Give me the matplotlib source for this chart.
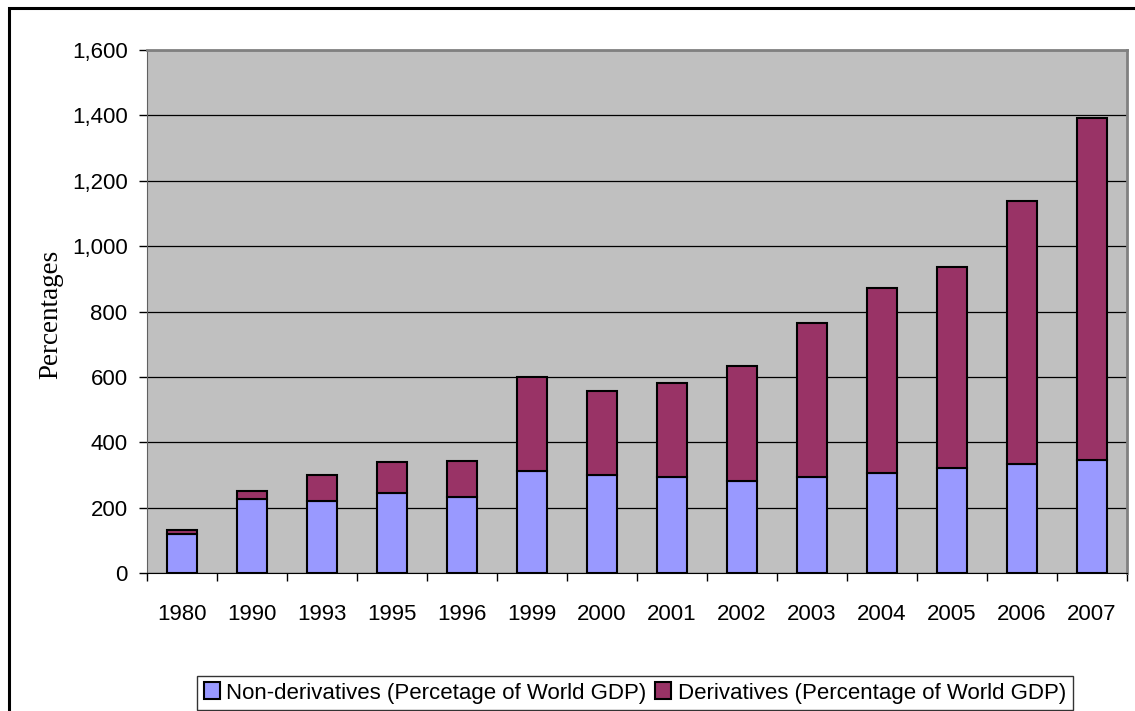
import matplotlib
matplotlib.use("Agg")
import matplotlib.pyplot as plt
from matplotlib.patches import Rectangle
import numpy as np

years = ["1980", "1990", "1993", "1995", "1996", "1999", "2000",
         "2001", "2002", "2003", "2004", "2005", "2006", "2007"]
non_derivatives = [118, 226, 219, 244, 231, 312, 300,
                   293, 281, 293, 307, 320, 332, 345]
derivatives = [14, 26, 82, 95, 113, 288, 257,
               289, 351, 472, 566, 615, 806, 1048]
yticks = [0, 200, 400, 600, 800, 1000, 1200, 1400, 1600]

sans = "Liberation Sans"

fig = plt.figure(figsize=(11.35, 7.11), dpi=100)
ax = fig.add_axes([147 / 1135, 1 - 573 / 711, (1127 - 147) / 1135, (573 - 50) / 711])
ax.set_facecolor("#C0C0C0")

x = np.arange(len(years))
w = 0.43
ax.bar(x, non_derivatives, w, color="#9999FF", edgecolor="black", linewidth=1.5,
       label="Non-derivatives (Percetage of World GDP)", zorder=3)
ax.bar(x, derivatives, w, bottom=non_derivatives, color="#993366", edgecolor="black",
       linewidth=1.5, label="Derivatives (Percentage of World GDP)", zorder=3)

ax.set_xlim(-0.5, len(years) - 0.5)
ax.set_ylim(0, 1600)
ax.set_yticks(yticks)
ax.set_yticklabels([f"{v:,}" for v in yticks], family=sans, fontsize=16)
ax.yaxis.grid(True, color="black", linewidth=0.9, zorder=1)
ax.set_axisbelow(True)

ax.set_xticks(x)
ax.set_xticklabels(years, family=sans, fontsize=16)
ax.set_xticks(np.arange(len(years) + 1) - 0.5, minor=True)
ax.tick_params(axis="x", which="major", length=0, pad=22)
ax.tick_params(axis="x", which="minor", length=6, width=1, color="black")
ax.tick_params(axis="y", length=6, width=1, color="black", pad=8)

for s in ["top", "right"]:
    ax.spines[s].set_color("#808080")
    ax.spines[s].set_linewidth(2)
ax.spines["left"].set_color("#606060")
ax.spines["bottom"].set_color("black")

# y axis title, placed by hand like the original chart
fig.text(51 / 1135, 1 - 314 / 711, "Percentages", rotation=90, ha="center", va="center",
         family="Liberation Serif", fontsize=19.5)

leg = fig.legend(loc="center", bbox_to_anchor=(635 / 1135, 1 - 693 / 711), ncol=2,
                 frameon=True, fancybox=False, shadow=False, prop={"family": sans, "size": 16},
                 handlelength=0.7, handleheight=0.8, handletextpad=0.3, columnspacing=0.4,
                 borderpad=0.3, edgecolor="black", borderaxespad=0)
leg.get_frame().set_linewidth(1)

# outer chart border, cut off on the right and bottom
fig.patches.append(Rectangle((9 / 1135, -0.05), 1.1, 1 - 8 / 711 + 0.05, transform=fig.transFigure,
                             fill=False, edgecolor="black", linewidth=2.2))

fig.savefig("out.png", dpi=100)
